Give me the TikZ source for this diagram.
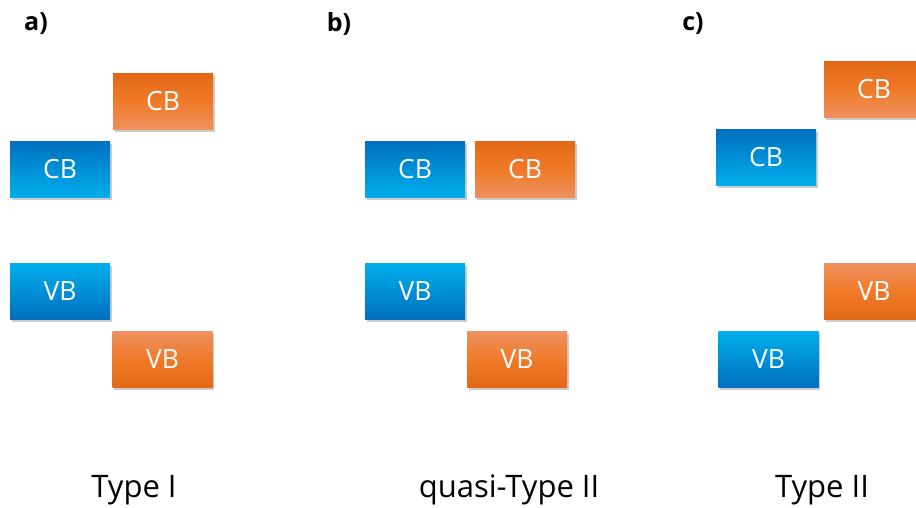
\documentclass[tikz,border=0pt]{standalone}
\usepackage{fontspec}
\setmainfont{Open Sans}
\usetikzlibrary{shadows}

\definecolor{bluedark}{RGB}{0,112,192}
\definecolor{bluelight}{RGB}{0,174,236}
\definecolor{orangedark}{RGB}{226,104,22}
\definecolor{orangemid}{RGB}{240,122,40}
\definecolor{orangelight}{RGB}{238,144,96}

\tikzset{
  band/.style={minimum width=100pt, minimum height=56pt, inner sep=0pt,
    text=white, font=\fontsize{26.5}{30}\selectfont,
    drop shadow={opacity=0.4, shadow xshift=1.5pt, shadow yshift=-2.5pt}},
  bluecb/.style={band, top color=bluedark, bottom color=bluelight},
  bluevb/.style={band, top color=bluelight, bottom color=bluedark},
  orangecb/.style={band, top color=orangedark, bottom color=orangelight, middle color=orangemid},
  orangevb/.style={band, top color=orangelight, bottom color=orangedark, middle color=orangemid},
  panel/.style={font=\bfseries\fontsize{25}{29}\selectfont, inner sep=0pt},
  caption/.style={font=\fontsize{31}{35}\selectfont, anchor=base, inner sep=0pt},
}

\begin{document}
\begin{tikzpicture}[x=1pt, y=-1pt]
  \useasboundingbox (0,0) rectangle (916,507);
  \clip (0,0) rectangle (916,507);

  % panel a: Type I
  \node[panel] (la) at (36,24) {a)};
  \node[orangecb] (acbo) at (163,101.5) {CB};
  \node[bluecb]   (acbb) at (60,169) {CB};
  \node[bluevb]   (avbb) at (60,291.5) {VB};
  \node[orangevb] (avbo) at (162.5,359.5) {VB};
  \node[caption]  (ta) at (134,497) {Type I};

  % panel b: quasi-Type II
  \node[panel] (lb) at (339,24) {b)};
  \node[bluecb]   (bcbb) at (415,169.5) {CB};
  \node[orangecb] (bcbo) at (525,169.5) {CB};
  \node[bluevb]   (bvbb) at (415,291.5) {VB};
  \node[orangevb] (bvbo) at (517,359.5) {VB};
  \node[caption]  (tb) at (509,497) {quasi-Type II};

  % panel c: Type II
  \node[panel] (lc) at (693,24) {c)};
  \node[orangecb] (ccbo) at (874,89.5) {CB};
  \node[bluecb]   (ccbb) at (766,157.5) {CB};
  \node[orangevb] (cvbo) at (874,291) {VB};
  \node[bluevb]   (cvbb) at (768.5,359.5) {VB};
  \node[caption]  (tc) at (822,497) {Type II};
\end{tikzpicture}
\end{document}
